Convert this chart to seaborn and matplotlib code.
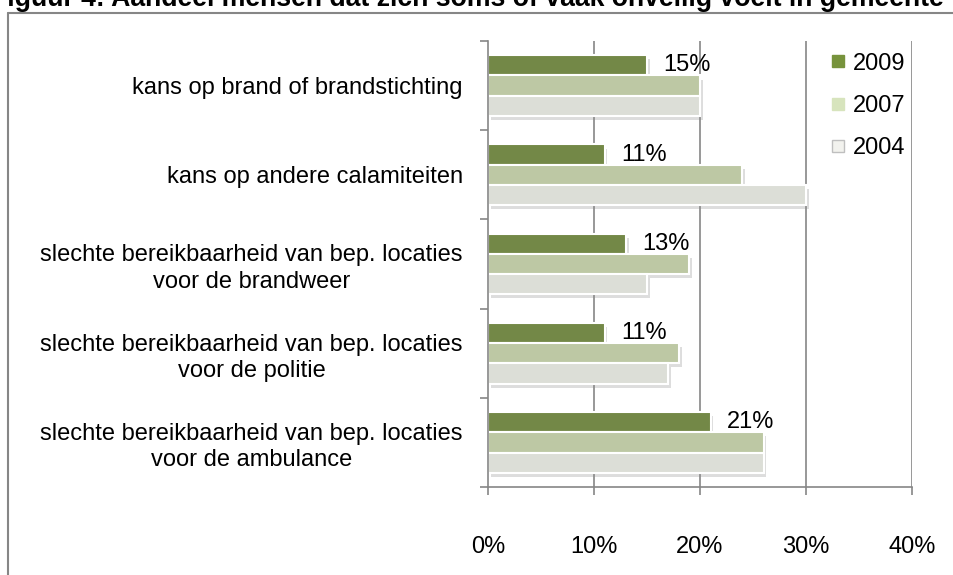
import matplotlib
matplotlib.use("Agg")
import matplotlib.pyplot as plt
import matplotlib.patheffects as pe
from matplotlib.lines import Line2D
import seaborn as sns
import pandas as pd
import numpy as np

categories = [
    "kans op brand of brandstichting",
    "kans op andere calamiteiten",
    "slechte bereikbaarheid van bep. locaties\nvoor de brandweer",
    "slechte bereikbaarheid van bep. locaties\nvoor de politie",
    "slechte bereikbaarheid van bep. locaties\nvoor de ambulance",
]
years = ["2009", "2007", "2004"]
v2009 = [15, 11, 13, 11, 21]
v2007 = [20, 24, 19, 18, 26]
v2004 = [20, 30, 15, 17, 26]
xticks = [0, 10, 20, 30, 40]
xticklabels = ["0%", "10%", "20%", "30%", "40%"]
title = "Figuur 4: Aandeel mensen dat zich soms of vaak onveilig voelt in gemeente"

bar_colors = {"2009": "#77933C", "2007": "#BFCE9E", "2004": "#DCDFD6"}
legend_face = {"2009": "#77933C", "2007": "#D7E4BD", "2004": "#F2F2EE"}
legend_edge = {"2009": "#77933C", "2007": "#D7E4BD", "2004": "#BFBFBF"}

rows = []
for y, vals in zip(years, [v2009, v2007, v2004]):
    for c, v in zip(categories, vals):
        rows.append({"categorie": c, "jaar": y, "waarde": v})
df = pd.DataFrame(rows)

sns.set_theme(style="white")
plt.rcParams["font.family"] = ["Liberation Sans", "DejaVu Sans"]
plt.rcParams["text.color"] = "black"
plt.rcParams["xtick.color"] = "black"
plt.rcParams["ytick.color"] = "black"

FS = 17
W, H = 954, 575
fig = plt.figure(figsize=(W / 100, H / 100), dpi=100)
ax = fig.add_axes([488 / W, 1 - 487 / H, (912 - 488) / W, (487 - 41) / H])

sns.barplot(data=df, y="categorie", x="waarde", hue="jaar", order=categories,
            hue_order=years, palette=bar_colors, orient="h", width=0.68,
            edgecolor="white", linewidth=1.5, ax=ax, legend=False, zorder=3)

shadow = [pe.SimplePatchShadow(offset=(2, -3), shadow_rgbFace="#8f8f8f", alpha=0.3), pe.Normal()]
for p in ax.patches:
    p.set_path_effects(shadow)

# data labels for 2009
cont = ax.containers[0]
for rect, v in zip(cont, v2009):
    ax.annotate(f"{v}%", (rect.get_width(), rect.get_y() + rect.get_height() / 2),
                xytext=(12, 0), textcoords="offset points", ha="left", va="center",
                fontsize=FS, color="black", zorder=5)

ax.set_xlim(0, 40)
ax.set_ylim(len(categories) - 0.5, -0.5)
ax.set_xticks(xticks)
ax.set_xticklabels(xticklabels, fontsize=FS)
ax.set_yticks(range(len(categories)))
ax.set_yticklabels(categories, fontsize=FS, multialignment="center", linespacing=1.25)
ax.set_yticks(np.arange(-0.5, len(categories), 1), minor=True)
ax.set_xlabel("")
ax.set_ylabel("")

gc = "#868686"
ax.grid(False)
for x in xticks[1:]:
    ax.axvline(x, color=gc, lw=1.2, zorder=1)
for s in ["top", "right"]:
    ax.spines[s].set_visible(False)
for s in ["left", "bottom"]:
    ax.spines[s].set_color(gc)
    ax.spines[s].set_linewidth(1.2)
    ax.spines[s].set_zorder(4)
ax.tick_params(axis="x", which="major", direction="out", length=6, width=1.2, color=gc, pad=29, bottom=True)
ax.tick_params(axis="y", which="major", length=0, pad=18, left=False)
ax.tick_params(axis="y", which="minor", direction="out", length=6, width=1.2, color=gc, left=True)

handles = [Line2D([0], [0], marker="s", linestyle="none", markersize=8,
                  markerfacecolor=legend_face[y], markeredgecolor=legend_edge[y],
                  markeredgewidth=1) for y in years]
ax.legend(handles, years, loc="upper left", bbox_to_anchor=(0.805, 0.974), frameon=False,
          fontsize=FS, handlelength=0.7, handletextpad=0.3, labelspacing=0.86,
          borderaxespad=0, borderpad=0)

# chart frame (left and top edges)
fig.add_artist(Line2D([8 / W, 8 / W], [0, 1 - 13 / H], transform=fig.transFigure, color=gc, lw=1.5))
fig.add_artist(Line2D([8 / W, 1], [1 - 13 / H, 1 - 13 / H], transform=fig.transFigure, color=gc, lw=1.5))

# title, clipped at the top edge as in the reference
fig.text(-9 / W, 1 - 6 / H, title, fontsize=19.2, fontweight="bold", ha="left", va="baseline", color="black")

fig.savefig("out.png", dpi=100)
